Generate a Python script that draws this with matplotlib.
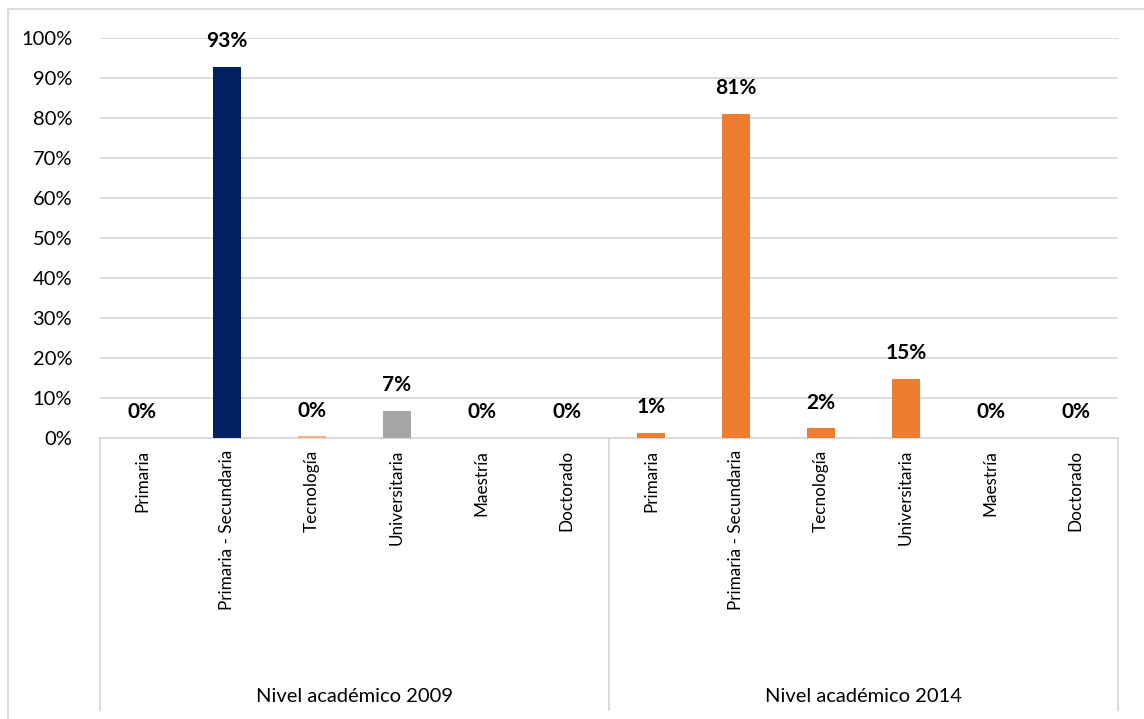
import matplotlib
matplotlib.use("Agg")
import matplotlib.pyplot as plt
from matplotlib.lines import Line2D

plt.rcParams['font.family'] = ['Lato', 'DejaVu Sans']

# data
niveles = ["Primaria", "Primaria - Secundaria", "Tecnología",
           "Universitaria", "Maestría", "Doctorado"]
grupos = ["Nivel académico 2009", "Nivel académico 2014"]
valores_2009 = [0.0, 92.8, 0.4, 6.8, 0.0, 0.0]
valores_2014 = [1.3, 81.0, 2.4, 14.8, 0.0, 0.0]
etiquetas_2009 = ["0%", "93%", "0%", "7%", "0%", "0%"]
etiquetas_2014 = ["1%", "81%", "2%", "15%", "0%", "0%"]
colores_2009 = ["#4472C4", "#002060", "#F4B183", "#A5A5A5", "#4472C4", "#4472C4"]
color_2014 = "#ED7D31"

W, H = 1144, 719
fig = plt.figure(figsize=(W / 100, H / 100), dpi=100)
x0, x1, y0, y1 = 100, 1118, 438, 38
ax = fig.add_axes([x0 / W, 1 - y0 / H, (x1 - x0) / W, (y0 - y1) / H])

valores = valores_2009 + valores_2014
etiquetas = etiquetas_2009 + etiquetas_2014
colores = colores_2009 + [color_2014] * len(valores_2014)
xs = list(range(len(valores)))

ax.bar(xs, valores, width=0.33, color=colores, zorder=3)
for x, v, t in zip(xs, valores, etiquetas):
    ax.annotate(t, (x, v), xytext=(0, 18.5), textcoords="offset points",
                ha="center", va="center", fontsize=15, fontweight="bold")

ax.set_xlim(-0.5, len(valores) - 0.5)
ax.set_ylim(0, 100)
ax.set_yticks(range(0, 101, 10))
ax.set_yticklabels([f"{v}%" for v in range(0, 101, 10)], fontsize=14.5)
ax.tick_params(axis="y", length=0, pad=20)
ax.set_xticks([])
ax.grid(axis="y", color="#D9D9D9", linewidth=1.3, zorder=0)
for s in ax.spines.values():
    s.set_visible(False)

# category labels, rotated
tr = ax.get_xaxis_transform()
for x, nombre in zip(xs, niveles + niveles):
    ax.text(x, -0.03, nombre, transform=tr, rotation=90, ha="center",
            va="top", fontsize=12.3)

# group labels
n = len(niveles)
for i, g in enumerate(grupos):
    ax.text(i * n + (n - 1) / 2, -(697 - y0) / (y0 - y1), g, transform=tr,
            ha="center", va="center", fontsize=14.5)

# table lines under the axis
box = "#D9D9D9"
bottom = -(710 - y0) / (y0 - y1)
ax.add_line(Line2D([-0.5, len(valores) - 0.5], [0, 0], transform=tr,
                   color=box, linewidth=1.3, clip_on=False, zorder=2))
for xb in [-0.5, n - 0.5, 2 * n - 0.5]:
    ax.add_line(Line2D([xb, xb], [0, bottom], transform=tr, color=box,
                       linewidth=1.3, clip_on=False))

# outer chart frame (top and left edges visible)
fig.add_artist(Line2D([8 / W, 1.0], [1 - 9 / H, 1 - 9 / H], color=box, linewidth=1.3))
fig.add_artist(Line2D([8 / W, 8 / W], [0, 1 - 9 / H], color=box, linewidth=1.3))

fig.savefig("out.png", dpi=100)
